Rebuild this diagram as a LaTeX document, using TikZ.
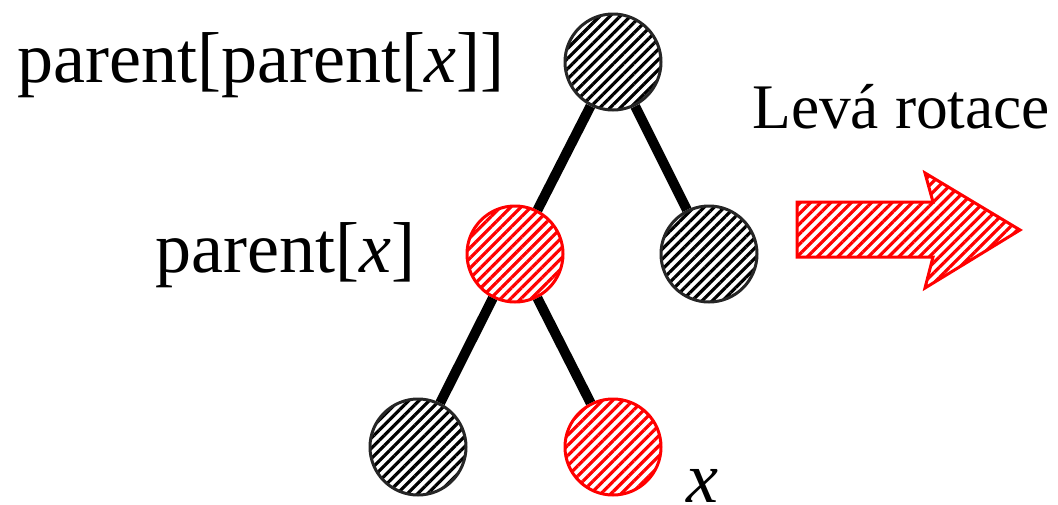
\documentclass[tikz,border=0pt]{standalone}
\usepackage{fontspec}
\setmainfont{Liberation Serif}
\usetikzlibrary{patterns.meta}
\begin{document}
\begin{tikzpicture}[x=1pt,y=-1pt,
  treenode/.style={circle, inner sep=0pt, minimum size=96pt, line width=3pt,
    preaction={fill=white}},
  blacknode/.style={treenode, draw=black!85,
    pattern={Lines[angle=45,distance=7.2pt,line width=3.2pt]}, pattern color=black},
  rednode/.style={treenode, draw=red,
    pattern={Lines[angle=45,distance=7.2pt,line width=3.2pt]}, pattern color=red},
  treeedge/.style={line width=10pt, black},
  bigtext/.style={inner sep=0pt, anchor=base west, font=\fontsize{72}{80}\selectfont},
  midtext/.style={inner sep=0pt, anchor=base west, font=\fontsize{63.5}{70}\selectfont},
  bigarrow/.style={draw=red, line width=3pt, line join=miter,
    preaction={fill=white},
    pattern={Lines[angle=45,distance=7.2pt,line width=3.2pt]}, pattern color=red}]
\useasboundingbox (0,0) rectangle (1058,504);

% tree nodes
\node[blacknode] (gp) at (613,62) {};
\node[rednode]   (p)  at (515,254) {};
\node[blacknode] (u)  at (709,254) {};
\node[blacknode] (a)  at (418,447) {};
\node[rednode]   (x)  at (613,447) {};

% edges
\draw[treeedge] (gp) -- (p);
\draw[treeedge] (gp) -- (u);
\draw[treeedge] (p) -- (a);
\draw[treeedge] (p) -- (x);

% labels
\node[bigtext] (lgp) at (17,82) {parent[parent[\textit{x}]]};
\node[bigtext] (lp)  at (155,272) {parent[\textit{x}]};
\node[bigtext] (lx)  at (686,502) {\textit{x}};
\node[midtext] (lrot) at (752,128) {Levá rotace};

% rotation arrow
\draw[bigarrow] (797,202) -- (933,202) -- (925,173) -- (1020,230)
  -- (925,288) -- (933,257) -- (797,257) -- cycle;
\end{tikzpicture}
\end{document}
